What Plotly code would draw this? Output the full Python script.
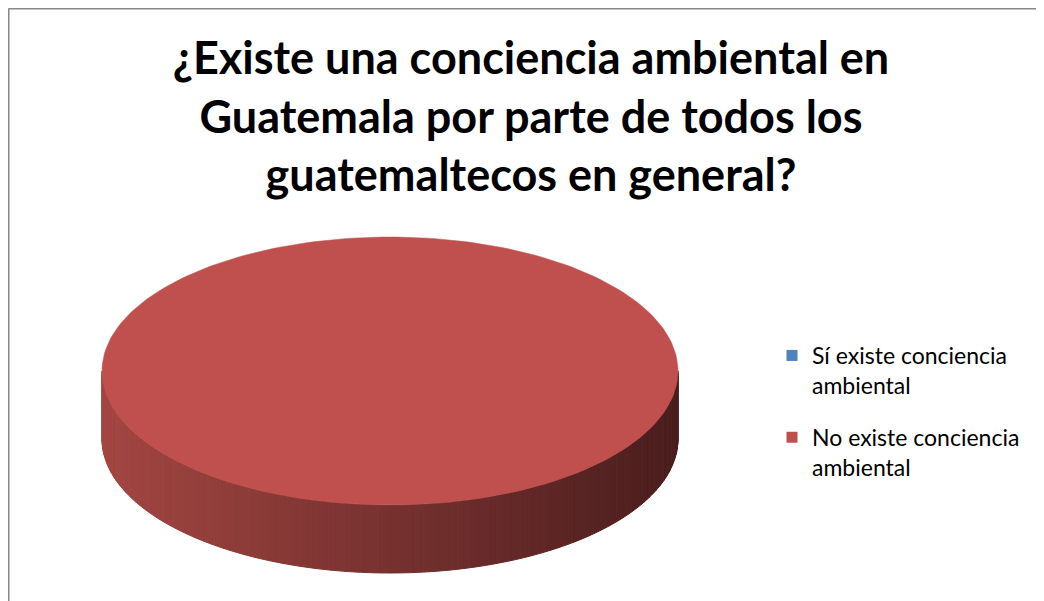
import math
import plotly.graph_objects as go

# ---- data ----
categories = ["Sí existe conciencia<br>ambiental", "No existe conciencia<br>ambiental"]
values = [0, 100]
colors = ["#4F81BD", "#C0504D"]
title_lines = ["¿Existe una conciencia ambiental en",
               "Guatemala por parte de todos los",
               "guatemaltecos en general?"]

# ---- geometry (page pixels; figure sits at an 8px body offset) ----
PW, PH = 1044, 601
OFF = 8
FW, FH = PW - OFF, PH - OFF
cx, cy = 390, 371
rx, ry = 288, 134
depth = 68

side_left = (163, 70, 66)
side_right = (74, 29, 29)

fig = go.Figure()

total = sum(values)
start = -math.pi / 2  # Excel starts at 12 o'clock, clockwise
slices = []
for cat, v, col in zip(categories, values, colors):
    span = 2 * math.pi * v / total
    slices.append((cat, start, start + span, col))
    start += span


def ell(t, dy=0):
    return cx + rx * math.cos(t), cy + ry * math.sin(t) + dy


def shade(x):
    f = (x - (cx - rx)) / (2 * rx)
    f = max(0.0, min(1.0, f))
    c = [round(a + (b - a) * f) for a, b in zip(side_left, side_right)]
    return "rgb(%d,%d,%d)" % tuple(c)


# side band (front half, theta in [0, pi]) in strips
N = 160
for cat, a0, a1, col in slices:
    if a1 - a0 <= 0:
        continue
    segs = []
    for k in range(-1, 2):
        lo = max(a0, 0 + 2 * math.pi * k)
        hi = min(a1, math.pi + 2 * math.pi * k)
        if hi > lo:
            segs.append((lo, hi))
    for lo, hi in segs:
        n = max(2, int(N * (hi - lo) / math.pi))
        for i in range(n):
            t0 = lo + (hi - lo) * i / n
            t1 = lo + (hi - lo) * (i + 1) / n
            pts = [ell(t0), ell(t1), ell(t1, depth), ell(t0, depth)]
            xm = (pts[0][0] + pts[1][0]) / 2
            c = shade(xm)
            fig.add_trace(go.Scatter(
                x=[p[0] for p in pts] + [pts[0][0]],
                y=[p[1] for p in pts] + [pts[0][1]],
                mode="lines", fill="toself", fillcolor=c,
                line=dict(color=c, width=1), hoverinfo="skip", showlegend=False))

# top faces
for cat, a0, a1, col in slices:
    if a1 - a0 <= 0:
        continue
    m = 240
    ts = [a0 + (a1 - a0) * i / m for i in range(m + 1)]
    xs = [cx] + [ell(t)[0] for t in ts] + [cx]
    ys = [cy] + [ell(t)[1] for t in ts] + [cy]
    fig.add_trace(go.Scatter(x=xs, y=ys, mode="lines", fill="toself",
                             fillcolor=col, line=dict(color=col, width=0.5),
                             hoverinfo="skip", showlegend=False))

# legend entries
for i, (cat, v, col) in enumerate(zip(categories, values, colors)):
    fig.add_trace(go.Scatter(x=[None], y=[None], mode="markers", name=cat,
                             legendgroup="g%d" % i,
                             marker=dict(symbol="square", size=11, color=col)))

# chart frame (left and top edges visible)
fig.add_shape(type="line", xref="paper", yref="paper",
              x0=0.5 / FW, y0=1 - 0.5 / FH, x1=1.01, y1=1 - 0.5 / FH,
              line=dict(color="#878787", width=2))
fig.add_shape(type="line", xref="paper", yref="paper",
              x0=0.5 / FW, y0=1 - 0.5 / FH, x1=0.5 / FW, y1=-0.01,
              line=dict(color="#878787", width=2))

fig.update_layout(
    width=FW, height=FH,
    margin=dict(l=0, r=0, t=0, b=0),
    paper_bgcolor="white", plot_bgcolor="white",
    xaxis=dict(range=[OFF, PW], visible=False, fixedrange=True),
    yaxis=dict(range=[PH, OFF], visible=False, fixedrange=True),
    title=dict(text="<br>".join(title_lines), x=(531 - OFF) / FW, xanchor="center",
               y=1 - (74 - OFF) / FH, yanchor="top",
               font=dict(family="Lato", size=45, color="black", weight="bold")),
    legend=dict(x=(772 - OFF) / FW, y=1 - (334 - OFF) / FH, xanchor="left", yanchor="top",
                font=dict(family="Lato", size=23, color="black"),
                itemwidth=30, tracegroupgap=19, valign="top",
                bgcolor="rgba(0,0,0,0)"),
    showlegend=True,
)

fig.write_html("out.html")
